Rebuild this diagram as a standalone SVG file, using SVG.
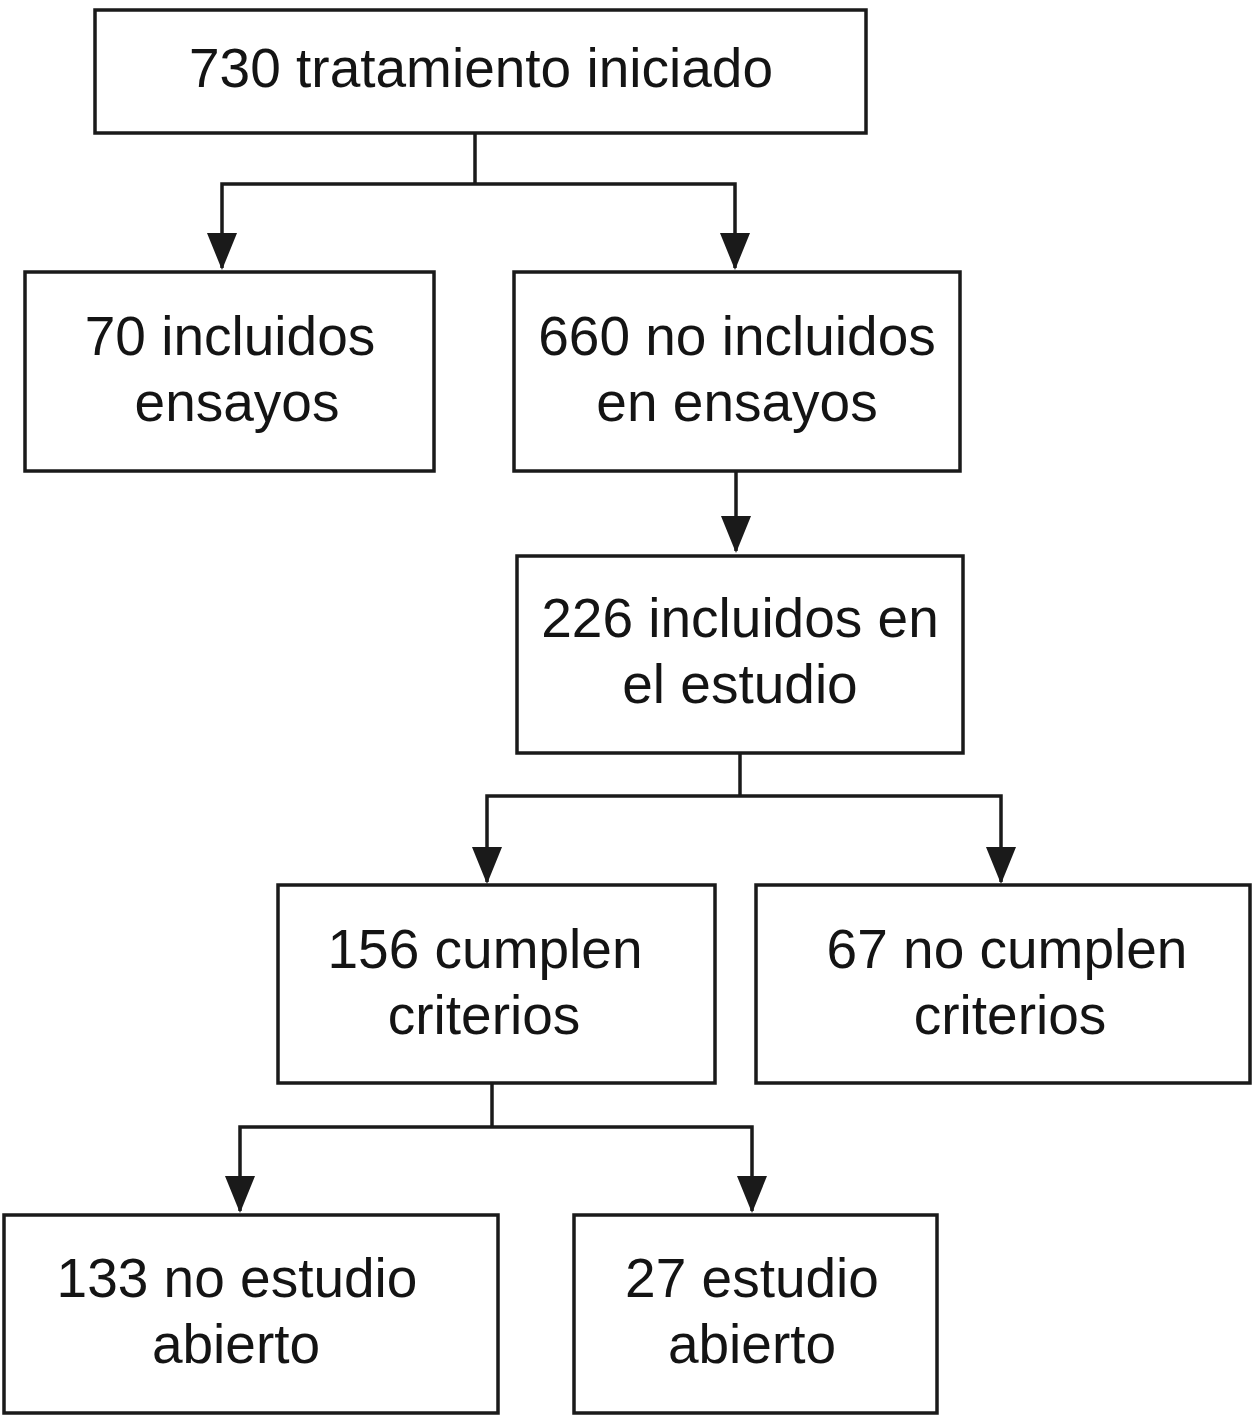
<svg xmlns="http://www.w3.org/2000/svg" width="1254" height="1416" viewBox="0 0 1254 1416">
<style>
.box{fill:#fff;stroke:#1a1a1a;stroke-width:3.5}
.lbl{font-family:"Liberation Sans",Arial,sans-serif;font-size:55px;fill:#141414;text-anchor:middle}
.con{fill:none;stroke:#1a1a1a;stroke-width:3.5}
</style>
<defs>
<marker id="ah" viewBox="0 0 37 30" refX="35" refY="15" markerWidth="37" markerHeight="30" markerUnits="userSpaceOnUse" orient="auto">
<path d="M0,0 L37,15 L0,30 z" fill="#1a1a1a"/>
</marker>
</defs>
<rect width="1254" height="1416" fill="#fff"/>
<g id="connectors">
<path class="con" d="M475,133 V184"/>
<path class="con" d="M475,184 H222 V268" marker-end="url(#ah)"/>
<path class="con" d="M475,184 H735 V268" marker-end="url(#ah)"/>
<path class="con" d="M736,468 V551" marker-end="url(#ah)"/>
<path class="con" d="M740,753 V796"/>
<path class="con" d="M740,796 H487 V882" marker-end="url(#ah)"/>
<path class="con" d="M740,796 H1001 V882" marker-end="url(#ah)"/>
<path class="con" d="M492,1083 V1127"/>
<path class="con" d="M492,1127 H240 V1211" marker-end="url(#ah)"/>
<path class="con" d="M492,1127 H752 V1211" marker-end="url(#ah)"/>
</g>
<g id="n1">
<rect class="box" x="95" y="10" width="771" height="123"/>
<text class="lbl" x="481" y="87">730 tratamiento iniciado</text>
</g>
<g id="n2">
<rect class="box" x="25" y="272" width="409" height="199"/>
<text class="lbl" x="230" y="355">70 incluidos</text>
<text class="lbl" x="237" y="421">ensayos</text>
</g>
<g id="n3">
<rect class="box" x="514" y="272" width="446" height="199"/>
<text class="lbl" x="737" y="355">660 no incluidos</text>
<text class="lbl" x="737" y="421">en ensayos</text>
</g>
<g id="n4">
<rect class="box" x="517" y="556" width="446" height="197"/>
<text class="lbl" x="740" y="637">226 incluidos en</text>
<text class="lbl" x="740" y="703">el estudio</text>
</g>
<g id="n5">
<rect class="box" x="278" y="885" width="437" height="198"/>
<text class="lbl" x="485" y="968">156 cumplen</text>
<text class="lbl" x="484" y="1034">criterios</text>
</g>
<g id="n6">
<rect class="box" x="756" y="885" width="494" height="198"/>
<text class="lbl" x="1007" y="968">67 no cumplen</text>
<text class="lbl" x="1010" y="1034">criterios</text>
</g>
<g id="n7">
<rect class="box" x="4" y="1215" width="494" height="198"/>
<text class="lbl" x="237" y="1297">133 no estudio</text>
<text class="lbl" x="236" y="1363">abierto</text>
</g>
<g id="n8">
<rect class="box" x="574" y="1215" width="363" height="198"/>
<text class="lbl" x="752" y="1297">27 estudio</text>
<text class="lbl" x="752" y="1363">abierto</text>
</g>
</svg>
